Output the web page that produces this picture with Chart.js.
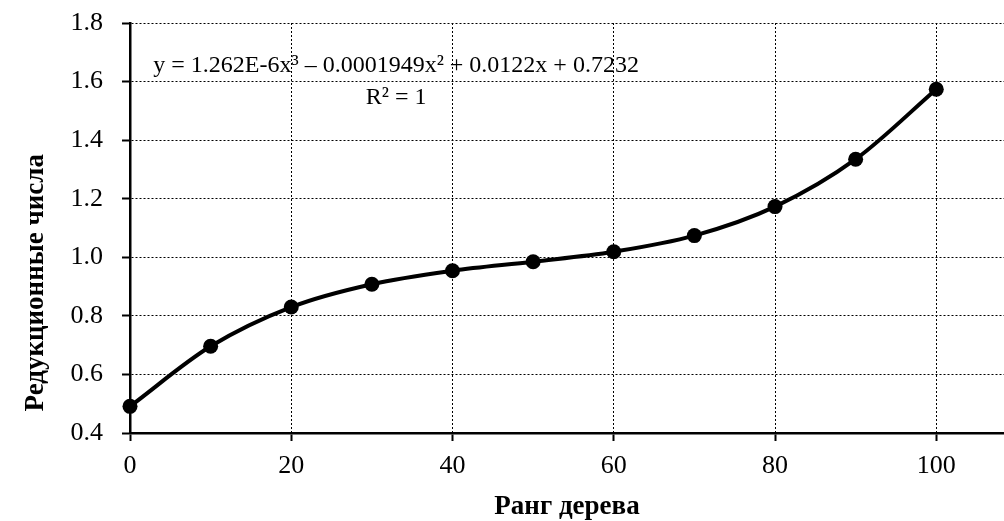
<!DOCTYPE html>
<html>
<head>
<meta charset="utf-8">
<script src="https://cdn.jsdelivr.net/npm/chart.js@4/dist/chart.umd.min.js"></script>
<style>
  html, body { margin: 0; padding: 0; background: #fff; }
  #wrap { width: 1004px; height: 521px; }
</style>
</head>
<body>
<div id="wrap"><canvas id="c" width="1004" height="521"></canvas></div>
<script>
// ---- data ----
const ranks = [0, 10, 20, 30, 40, 50, 60, 70, 80, 90, 100];
const reductionNumbers = [0.491, 0.696, 0.830, 0.908, 0.954, 0.985, 1.019, 1.074, 1.173, 1.335, 1.574];
const xTicks = [0, 20, 40, 60, 80, 100];
const yTicks = [0.4, 0.6, 0.8, 1.0, 1.2, 1.4, 1.6, 1.8];
const xTitle = 'Ранг дерева';
const yTitle = 'Редукционные числа';
const equationText = 'y = 1.262E-6x³ – 0.0001949x² + 0.0122x + 0.7232';
const r2Text = 'R² = 1';

const SERIF = '"Liberation Serif", "Times New Roman", serif';

const labelsPlugin = {
  id: 'extraLabels',
  afterDraw(chart) {
    const { ctx } = chart;
    const xs = chart.scales.x, ys = chart.scales.y;
    ctx.save();
    ctx.fillStyle = '#000';
    // trendline equation
    ctx.font = '24px ' + SERIF;
    ctx.textAlign = 'center';
    ctx.textBaseline = 'alphabetic';
    const cx = xs.getPixelForValue(33);
    ctx.fillText(equationText, cx, ys.getPixelForValue(1.631));
    ctx.fillText(r2Text, cx, ys.getPixelForValue(1.522));
    // y axis title
    ctx.font = 'bold 27px ' + SERIF;
    ctx.textBaseline = 'middle';
    ctx.translate(36, ys.getPixelForValue(0.913));
    ctx.rotate(-Math.PI / 2);
    ctx.fillText(yTitle, 0, 0);
    ctx.restore();
  }
};

const points = ranks.map((r, i) => ({ x: r, y: reductionNumbers[i] }));

const gridCommon = {
  color: '#000',
  lineWidth: 1,
  tickLength: 8,
  tickColor: '#000',
  tickWidth: 2,
  tickBorderDash: []
};

new Chart(document.getElementById('c'), {
  type: 'scatter',
  data: {
    datasets: [{
      data: points,
      showLine: true,
      borderColor: '#000',
      backgroundColor: '#000',
      borderWidth: 4,
      cubicInterpolationMode: 'monotone',
      pointRadius: 7.5,
      pointHoverRadius: 7.5,
      pointBackgroundColor: '#000',
      pointBorderWidth: 0,
      clip: false
    }]
  },
  options: {
    responsive: false,
    animation: false,
    devicePixelRatio: 1,
    layout: { autoPadding: false, padding: { left: 0, right: 0, top: 23, bottom: 0 } },
    plugins: { legend: { display: false }, tooltip: { enabled: false } },
    scales: {
      x: {
        type: 'linear',
        min: 0,
        max: 108.4,
        afterBuildTicks(s) { s.ticks = xTicks.map(v => ({ value: v })); },
        afterFit(s) { s.height = 88; s.paddingLeft = 0; s.paddingRight = 0; },
        ticks: {
          color: '#000',
          font: { family: SERIF, size: 26 },
          padding: 10,
          maxRotation: 0,
          includeBounds: false
        },
        grid: gridCommon,
        border: { display: true, color: '#000', width: 2.5, dash: [2, 2] },
        title: {
          display: true,
          text: xTitle,
          color: '#000',
          font: { family: SERIF, size: 27, weight: 'bold', lineHeight: 1 },
          padding: { top: 0, bottom: 0 }
        }
      },
      y: {
        type: 'linear',
        min: 0.4,
        max: 1.8,
        afterBuildTicks(s) { s.ticks = yTicks.map(v => ({ value: v })); },
        afterFit(s) { s.width = 130; s.paddingTop = 0; s.paddingBottom = 0; },
        ticks: {
          color: '#000',
          font: { family: SERIF, size: 26 },
          padding: 19,
          callback: v => Number(v).toFixed(1)
        },
        grid: gridCommon,
        border: { display: true, color: '#000', width: 2.5, dash: [2, 2] },
        title: { display: false }
      }
    }
  },
  plugins: [labelsPlugin]
});
</script>
</body>
</html>
